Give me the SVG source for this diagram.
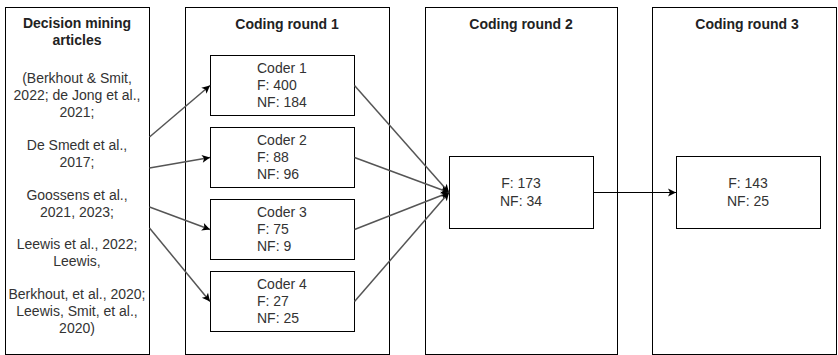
<svg xmlns="http://www.w3.org/2000/svg" width="838" height="355" viewBox="0 0 838 355">
<defs>
<style>
.box{fill:#fff;stroke:#000;stroke-width:1}
.t{font-family:"Liberation Sans",Arial,sans-serif;font-size:14px;fill:#333}
.c{text-anchor:middle}
.b{font-weight:bold;fill:#222}
.edge{fill:none;stroke:#555;stroke-width:1.5}
.edgeb{fill:none;stroke:#000;stroke-width:1}
</style>
<marker id="ah" markerWidth="10" markerHeight="10" refX="9" refY="5" orient="auto" markerUnits="userSpaceOnUse">
<path d="M1,1 L9,5 L1,9 L3,5 Z" fill="#000"/>
</marker>
</defs>
<rect width="838" height="355" fill="#fff"/>
<g id="articles">
<rect class="box" x="5.5" y="7.5" width="144" height="347"/>
<text class="t c b" x="77" y="28">Decision mining</text>
<text class="t c b" x="77" y="45">articles</text>
<text class="t c" x="77" y="83">(Berkhout &amp; Smit,</text>
<text class="t c" x="77" y="100">2022; de Jong et al.,</text>
<text class="t c" x="77" y="117">2021;</text>
<text class="t c" x="77" y="150">De Smedt et al.,</text>
<text class="t c" x="77" y="167">2017;</text>
<text class="t c" x="77" y="200">Goossens et al.,</text>
<text class="t c" x="77" y="217">2021, 2023;</text>
<text class="t c" x="77" y="249">Leewis et al., 2022;</text>
<text class="t c" x="77" y="266">Leewis,</text>
<text class="t c" x="77" y="299">Berkhout, et al., 2020;</text>
<text class="t c" x="77" y="316">Leewis, Smit, et al.,</text>
<text class="t c" x="77" y="333">2020)</text>
</g>
<g id="round1">
<rect class="box" x="185.5" y="7.5" width="204" height="347"/>
<text class="t c b" x="287" y="29">Coding round 1</text>
</g>
<g id="round2">
<rect class="box" x="425.5" y="7.5" width="192" height="347"/>
<text class="t c b" x="521" y="29">Coding round 2</text>
</g>
<g id="round3">
<rect class="box" x="652.5" y="7.5" width="184" height="347"/>
<text class="t c b" x="747" y="29">Coding round 3</text>
</g>
<g id="coder1">
<rect class="box" x="210.5" y="55.5" width="144" height="60"/>
<text class="t" x="257" y="73">Coder 1</text>
<text class="t" x="257" y="90">F: 400</text>
<text class="t" x="257" y="107">NF: 184</text>
</g>
<g id="coder2">
<rect class="box" x="210.5" y="127.5" width="144" height="60"/>
<text class="t" x="257" y="145">Coder 2</text>
<text class="t" x="257" y="162">F: 88</text>
<text class="t" x="257" y="179">NF: 96</text>
</g>
<g id="coder3">
<rect class="box" x="210.5" y="199.5" width="144" height="60"/>
<text class="t" x="257" y="217">Coder 3</text>
<text class="t" x="257" y="234">F: 75</text>
<text class="t" x="257" y="251">NF: 9</text>
</g>
<g id="coder4">
<rect class="box" x="210.5" y="271.5" width="144" height="60"/>
<text class="t" x="257" y="289">Coder 4</text>
<text class="t" x="257" y="306">F: 27</text>
<text class="t" x="257" y="323">NF: 25</text>
</g>
<g id="merged2">
<rect class="box" x="449.5" y="156.5" width="144" height="72"/>
<text class="t c" x="521" y="188">F: 173</text>
<text class="t c" x="521" y="206">NF: 34</text>
</g>
<g id="merged3">
<rect class="box" x="676.5" y="156.5" width="144" height="72"/>
<text class="t c" x="748" y="188">F: 143</text>
<text class="t c" x="748" y="206">NF: 25</text>
</g>
<g id="connectors">
<line class="edge" x1="149.5" y1="137" x2="210" y2="85.5" marker-end="url(#ah)"/>
<line class="edge" x1="149.5" y1="168" x2="210" y2="157.5" marker-end="url(#ah)"/>
<line class="edge" x1="149.5" y1="207" x2="210" y2="229.5" marker-end="url(#ah)"/>
<line class="edge" x1="149.5" y1="228" x2="210" y2="301.5" marker-end="url(#ah)"/>
<line class="edge" x1="354.5" y1="85.5" x2="449" y2="192.5" marker-end="url(#ah)"/>
<line class="edge" x1="354.5" y1="157.5" x2="449" y2="192.5" marker-end="url(#ah)"/>
<line class="edge" x1="354.5" y1="229.5" x2="449" y2="192.5" marker-end="url(#ah)"/>
<line class="edge" x1="354.5" y1="301.5" x2="449" y2="192.5" marker-end="url(#ah)"/>
<line class="edgeb" x1="593.5" y1="192.5" x2="676" y2="192.5" marker-end="url(#ah)"/>
</g>
</svg>
